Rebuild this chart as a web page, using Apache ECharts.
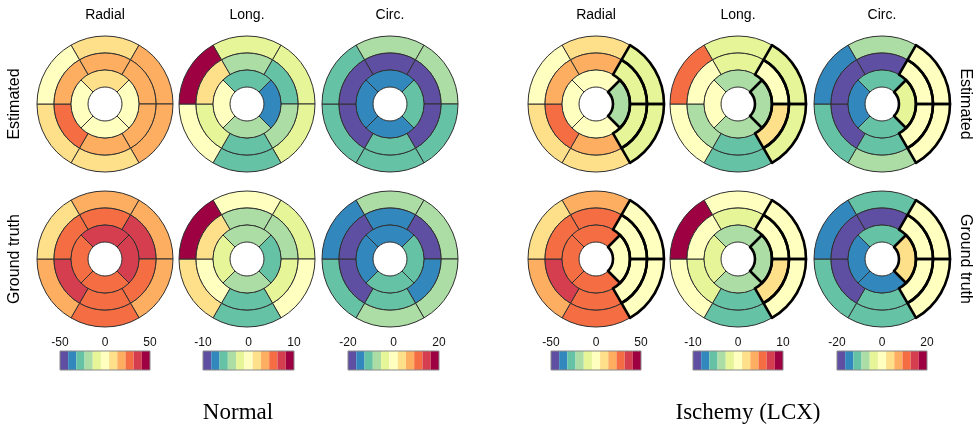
<!DOCTYPE html>
<html>
<head>
<meta charset="utf-8">
<script src="https://cdn.jsdelivr.net/npm/echarts@6/dist/echarts.min.js"></script>
<style>
  html, body { margin: 0; padding: 0; background: #ffffff; }
  #chart { width: 978px; height: 431px; }
</style>
</head>
<body>
<div id="chart"></div>
<script>
// Spectral colour scale, 11 discrete bins from low (purple) to high (dark red)
const spectral = ['#5e4fa2', '#3288bd', '#66c2a5', '#abdda4', '#e6f598', '#ffffbf',
                  '#fee08b', '#fdae61', '#f46d43', '#d53e4f', '#9e0142'];

const strainTypes = ['Radial', 'Long.', 'Circ.'];
const strainLimits = [50, 10, 20];
const rowLabels = ['Estimated', 'Ground truth'];
const groupLabels = ['Normal', 'Ischemy (LCX)'];

// Strain per segment (%). Order: basal ring (6, clockwise from top),
// mid ring (6, clockwise from top), apical ring (4, clockwise from top).
const normalEstRadial = [9, 18, 20, 11, 8, 2,   19, 21, 17, 16, 27, 15,   7, 3, 1, 2];
const normalEstLong   = [-1.5, -1.8, -1.3, -5.2, 0.3, 9.1,   -3.4, -5.0, -3.2, -5.5, -1.6, 1.8,   -5.3, -7.2, -3.6, 0.2];
const normalEstCirc   = [-7.5, -6.8, -10.5, -11.2, -10.1, -11.8,   -17.5, -17.1, -16.8, -11.5, -17.9, -18.2,   -14.6, -12.1, -13.8, -15.0];

const normalGtRadial  = [19, 17, 21, 25, 18, 12,   28, 34, 29, 27, 35, 26,   36, 33, 30, 31];
const normalGtLong    = [0.4, -1.2, 0.6, -5.4, 1.9, 8.8,   -3.1, -3.5, -1.9, -5.1, -0.2, 2.2,   -3.3, -4.9, -3.8, -2.0];
const normalGtCirc    = [-7.2, -6.5, -7.9, -8.3, -10.6, -13.4,   -14.2, -17.3, -13.9, -11.0, -16.9, -17.6,   -13.5, -10.8, -11.4, -14.1];

const ischEstRadial   = [10, -8, -10, 9, 11, 3,   18, -6, -9, 17, 26, 16,   2, -16, 1, 3];
const ischEstLong     = [-1.4, -1.9, -1.2, -5.3, 0.1, 5.2,   -1.7, 0.3, 1.6, -5.0, -3.1, 0.5,   -3.4, -3.0, -3.6, 0.2];
const ischEstCirc     = [-7.0, 0.6, 1.0, -6.6, -10.9, -14.0,   -17.0, 0.9, 0.4, -11.3, -17.4, -16.9,   -10.4, -3.1, -11.1, -14.3];

const ischGtRadial    = [19, 2, 1, 26, 20, 11,   27, 3, 2, 28, 34, 25,   29, 1, 27, 26];
const ischGtLong      = [0.5, 0.2, 0.4, -5.2, 0.1, 9.0,   -1.5, 0.3, 1.7, -5.4, -1.8, 0.6,   -3.2, -3.5, -3.0, -1.6];
const ischGtCirc      = [-10.2, 0.8, 0.5, -11.0, -10.5, -13.8,   -17.2, 0.7, 1.1, -11.4, -17.0, -17.5,   -10.6, 3.2, -13.5, -14.4];

// Segments of the LCX territory (outlined in bold on the ischemic maps)
const lcxSegments = [1, 2, 7, 8, 13];

// [group][row][strain type]
const maps = [
  [[normalEstRadial, normalEstLong, normalEstCirc], [normalGtRadial, normalGtLong, normalGtCirc]],
  [[ischEstRadial, ischEstLong, ischEstCirc], [ischGtRadial, ischGtLong, ischGtCirc]]
];

// ---- layout ----
const colCenters = [[105, 247, 390], [596, 738, 882]];
const rowCenters = [104, 259];
const R = 68;
const ringRadii = [[0.75 * R, R], [0.5 * R, 0.75 * R], [0.25 * R, 0.5 * R]];
const ringStart = [120, 120, 135];          // first boundary of each ring (deg)
const ringSlices = [[0, 6], [6, 12], [12, 16]];
const colorbarBoxes = [[[60, 150], [203, 294], [348, 439]], [[551, 641], [693, 783], [837, 927]]];
const colorbarTop = 351, colorbarHeight = 19;

function binColor(v, lim) {
  const n = spectral.length;
  let k = Math.floor((v + lim) / (2 * lim) * n);
  k = Math.max(0, Math.min(n - 1, k));
  return spectral[k];
}

const series = [];
const grids = [], xAxes = [], yAxes = [];
const graphics = [];
const sansFont = '"Liberation Sans", Arial, sans-serif';

maps.forEach((group, g) => {
  group.forEach((row, r) => {
    row.forEach((vals, t) => {
      const cx = colCenters[g][t], cy = rowCenters[r], lim = strainLimits[t];
      ringSlices.forEach(([a, b], ri) => {
        const common = {
          type: 'pie', center: [cx, cy], radius: ringRadii[ri],
          startAngle: ringStart[ri], clockwise: true, silent: true, animation: false,
          label: { show: false }, labelLine: { show: false }, emptyCircleStyle: { opacity: 0 }
        };
        series.push(Object.assign({}, common, {
          z: 2,
          data: vals.slice(a, b).map((v, i) => ({
            name: 'seg' + (a + i + 1), value: 1, strain: v,
            itemStyle: { color: binColor(v, lim), borderColor: '#303030', borderWidth: 1 }
          }))
        }));
        if (g === 1) {
          // bold outline over the LCX territory
          series.push(Object.assign({}, common, {
            z: 3,
            data: vals.slice(a, b).map((v, i) => {
              const bold = lcxSegments.indexOf(a + i) >= 0;
              return {
                name: 'lcx' + (a + i + 1), value: 1,
                itemStyle: { color: 'rgba(0,0,0,0)', borderColor: bold ? '#000' : 'rgba(0,0,0,0)', borderWidth: bold ? 2.6 : 0 }
              };
            })
          }));
        }
      });
    });
  });

  // column titles and colour bars
  strainTypes.forEach((name, t) => {
    graphics.push({
      type: 'text', x: colCenters[g][t], y: 15,
      style: { text: name, font: '14px ' + sansFont, fill: '#000', textAlign: 'center', textVerticalAlign: 'middle' }
    });
    const lim = strainLimits[t];
    const gi = grids.length;
    const [x0, x1] = colorbarBoxes[g][t];
    grids.push({ left: x0, top: colorbarTop, width: x1 - x0, height: colorbarHeight, show: false });
    xAxes.push({
      gridIndex: gi, type: 'value', min: -lim, max: lim, interval: lim, position: 'top',
      axisLine: { show: false }, axisTick: { show: false }, splitLine: { show: false },
      axisLabel: { fontSize: 12, color: '#111', margin: 2, fontFamily: sansFont }
    });
    yAxes.push({ gridIndex: gi, type: 'value', min: 0, max: 1, show: false });
    const step = 2 * lim / spectral.length;
    series.push({
      type: 'custom', xAxisIndex: gi, yAxisIndex: gi, silent: true, animation: false,
      data: spectral.map((c, k) => [k]),
      renderItem: (params, api) => {
        const k = api.value(0);
        const p0 = api.coord([-lim + k * step, 0]);
        const p1 = api.coord([-lim + (k + 1) * step, 1]);
        return { type: 'rect', shape: { x: p0[0], y: p1[1], width: p1[0] - p0[0], height: p0[1] - p1[1] },
                 style: { fill: spectral[k] } };
      }
    });
    series.push({
      type: 'custom', xAxisIndex: gi, yAxisIndex: gi, silent: true, animation: false, z: 3,
      data: [[0]],
      renderItem: (params, api) => {
        const p0 = api.coord([-lim, 0]);
        const p1 = api.coord([lim, 1]);
        return { type: 'rect', shape: { x: p0[0], y: p1[1], width: p1[0] - p0[0], height: p0[1] - p1[1] },
                 style: { fill: 'none', stroke: '#8a8a8a', lineWidth: 1 } };
      }
    });
  });
});

// row labels (left reads upward, right reads downward)
rowLabels.forEach((label, r) => {
  graphics.push({
    type: 'text', x: 15, y: rowCenters[r], rotation: Math.PI / 2,
    style: { text: label, font: '16px ' + sansFont, fill: '#000', textAlign: 'center', textVerticalAlign: 'middle' }
  });
  graphics.push({
    type: 'text', x: 965, y: rowCenters[r], rotation: -Math.PI / 2,
    style: { text: label, font: '16px ' + sansFont, fill: '#000', textAlign: 'center', textVerticalAlign: 'middle' }
  });
});

// group captions
const captionX = [238, 748];
groupLabels.forEach((label, g) => {
  graphics.push({
    type: 'text', x: captionX[g], y: 413,
    style: { text: label, font: '23px "Liberation Serif", "Times New Roman", serif', fill: '#000', textAlign: 'center', textVerticalAlign: 'middle' }
  });
});

const chart = echarts.init(document.getElementById('chart'), null, { renderer: 'canvas' });
chart.setOption({
  backgroundColor: '#ffffff',
  animation: false,
  grid: grids,
  xAxis: xAxes,
  yAxis: yAxes,
  series: series,
  graphic: { elements: graphics }
});
</script>
</body>
</html>
